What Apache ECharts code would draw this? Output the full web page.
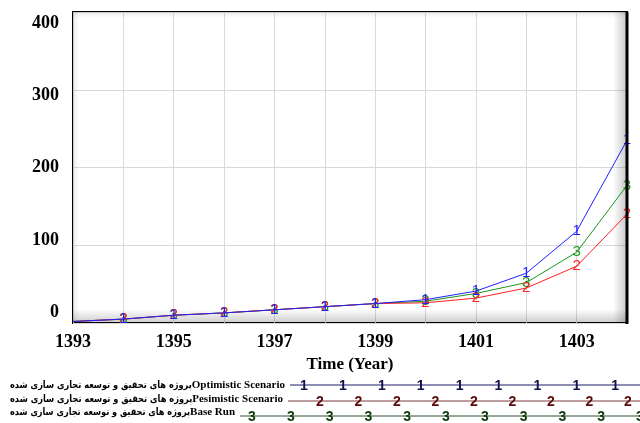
<!DOCTYPE html>
<html>
<head>
<meta charset="utf-8">
<script src="https://cdn.jsdelivr.net/npm/echarts@6/dist/echarts.min.js"></script>
<style>html,body{margin:0;padding:0;background:#fff;}#c{width:640px;height:423px;}</style>
</head>
<body>
<div id="c"></div>
<script>
const years = [1393, 1394, 1395, 1396, 1397, 1398, 1399, 1400, 1401, 1402, 1403, 1404];
const optimistic = [2, 5, 10, 13, 17, 21, 25, 30, 41, 64, 118, 235];
const pessimistic = [2, 5, 10, 13, 17, 21, 25, 26, 32, 45, 73, 140];
const baseRun = [2, 5, 10, 13, 17, 21, 25, 28, 38, 52, 91, 177];
const yTicks = [0, 100, 200, 300, 400];
const xTickLabels = [1393, 1395, 1397, 1399, 1401, 1403];
const varName = 'پروژه های تحقیق و توسعه تجاری سازی شده';
const runNames = ['Optimistic Scenario', 'Pesimistic Scenario', 'Base Run'];
const runDigits = ['1', '2', '3'];

const chart = echarts.init(document.getElementById('c'), null, {renderer: 'canvas'});
const serif = '"Liberation Serif", "Times New Roman", serif';
const enFont = 'bold 11px "Liberation Serif", "Times New Roman", serif';
const faFont = 'bold 10px "DejaVu Sans", sans-serif';
const mctx = document.createElement('canvas').getContext('2d');
function textW(t, f) { mctx.font = f; return mctx.measureText(t).width; }

function mk(name, vals, color, digit, z) {
  return {
    name: name, type: 'line', z: z,
    data: years.map((y, i) => [y, vals[i]]),
    symbol: 'circle', symbolSize: 1,
    itemStyle: {color: 'rgba(0,0,0,0)'},
    lineStyle: {color: color, width: 1},
    label: {
      show: true, position: 'inside',
      formatter: p => p.dataIndex === 0 ? '' : digit,
      color: color, fontFamily: '"Liberation Sans", Arial, sans-serif', fontSize: 15
    },
    emphasis: {disabled: true},
    animation: false
  };
}

// legend graphics (Vensim style)
const legendRows = [
  {y: 385, ty: 385, x0: 290, d0: 304, step: 38.9, n: 9, line: '#1c1c66', dc: '#10104a'},
  {y: 401, ty: 399, x0: 288, d0: 320, step: 38.5, n: 9, line: '#7a3a3a', dc: '#5a0a0a'},
  {y: 416, ty: 412, x0: 240, d0: 252, step: 38.8, n: 11, line: '#2e4e2e', dc: '#0a3a0a'}
];
const graphics = [];
// bevel shading inside plot area
graphics.push({type: 'rect', z: 1, silent: true, shape: {x: 73, y: 309, width: 554, height: 14},
  style: {fill: new echarts.graphic.LinearGradient(0, 0, 0, 1, [{offset: 0, color: 'rgba(0,0,0,0)'}, {offset: 1, color: 'rgba(0,0,0,0.2)'}])}});
graphics.push({type: 'rect', z: 1, silent: true, shape: {x: 613, y: 12, width: 14, height: 311},
  style: {fill: new echarts.graphic.LinearGradient(0, 0, 1, 0, [{offset: 0, color: 'rgba(0,0,0,0)'}, {offset: 1, color: 'rgba(0,0,0,0.22)'}])}});
graphics.push({type: 'rect', z: 1, silent: true, shape: {x: 73, y: 12, width: 6, height: 311},
  style: {fill: new echarts.graphic.LinearGradient(0, 0, 1, 0, [{offset: 0, color: 'rgba(0,0,0,0.08)'}, {offset: 1, color: 'rgba(0,0,0,0)'}])}});
graphics.push({type: 'rect', z: 1, silent: true, shape: {x: 73, y: 12, width: 554, height: 6},
  style: {fill: new echarts.graphic.LinearGradient(0, 0, 0, 1, [{offset: 0, color: 'rgba(0,0,0,0.08)'}, {offset: 1, color: 'rgba(0,0,0,0)'}])}});
graphics.push({type: 'line', z: 5, silent: true, shape: {x1: 627, y1: 12, x2: 627, y2: 324}, style: {stroke: '#000', lineWidth: 3}});

legendRows.forEach((r, i) => {
  const enRight = r.x0 - 5;
  const enW = textW(runNames[i], enFont);
  const faRight = enRight - enW;
  const faW = textW(varName, faFont);
  const sx = Math.min(1, (faRight - 10) / faW);
  graphics.push({type: 'text', silent: true, x: enRight, y: r.ty, style: {
    x: 0, y: 0, text: runNames[i], align: 'right', verticalAlign: 'middle', font: enFont, fill: '#000'}});
  graphics.push({type: 'text', silent: true, x: faRight, y: r.ty, scaleX: sx, style: {
    x: 0, y: 0, text: varName, align: 'right', verticalAlign: 'middle', font: faFont, fill: '#000'}});
  graphics.push({type: 'line', silent: true, shape: {x1: r.x0, y1: r.y, x2: 640, y2: r.y},
    style: {stroke: r.line, lineWidth: 1}});
  for (let k = 0; k < r.n; k++) {
    graphics.push({type: 'text', silent: true, style: {
      x: r.d0 + k * r.step, y: r.y + 1, text: runDigits[i], align: 'center', verticalAlign: 'middle',
      font: 'bold 14px "Liberation Sans", Arial, sans-serif', fill: r.dc}});
  }
});

chart.setOption({
  animation: false,
  backgroundColor: '#fff',
  grid: {left: 73, right: 13, top: 12, bottom: 100, show: true, borderColor: '#000', borderWidth: 2, backgroundColor: '#fff'},
  xAxis: {
    type: 'value', min: 1393, max: 1404, interval: 1,
    name: 'Time (Year)', nameLocation: 'middle', nameGap: 33,
    nameTextStyle: {fontFamily: serif, fontWeight: 'bold', fontSize: 17, color: '#000'},
    axisLine: {show: false}, axisTick: {show: false},
    splitLine: {show: true, lineStyle: {color: '#d9d9d9', width: 1}},
    axisLabel: {
      margin: 10, fontFamily: serif, fontWeight: 'bold', fontSize: 18, color: '#000',
      formatter: v => xTickLabels.indexOf(v) >= 0 ? String(v) : ''
    }
  },
  yAxis: [
    {
      type: 'value', min: 0, max: 400, interval: 100,
      axisLine: {show: false}, axisTick: {show: false},
      splitLine: {show: true, lineStyle: {color: '#d9d9d9', width: 1}},
      axisLabel: {show: false}
    },
    {
      type: 'value', min: -14.6, max: 415.3, position: 'left',
      axisLine: {show: false}, axisTick: {show: false}, splitLine: {show: false},
      axisLabel: {
        customValues: yTicks, margin: 14,
        fontFamily: serif, fontWeight: 'bold', fontSize: 18, color: '#000',
        formatter: v => String(v)
      }
    }
  ],
  series: [
    mk('Base Run', baseRun, '#1a961a', '3', 2),
    mk('Pesimistic Scenario', pessimistic, '#ff2020', '2', 3),
    mk('Optimistic Scenario', optimistic, '#2020ff', '1', 4)
  ],
  graphic: graphics
});
</script>
</body>
</html>
